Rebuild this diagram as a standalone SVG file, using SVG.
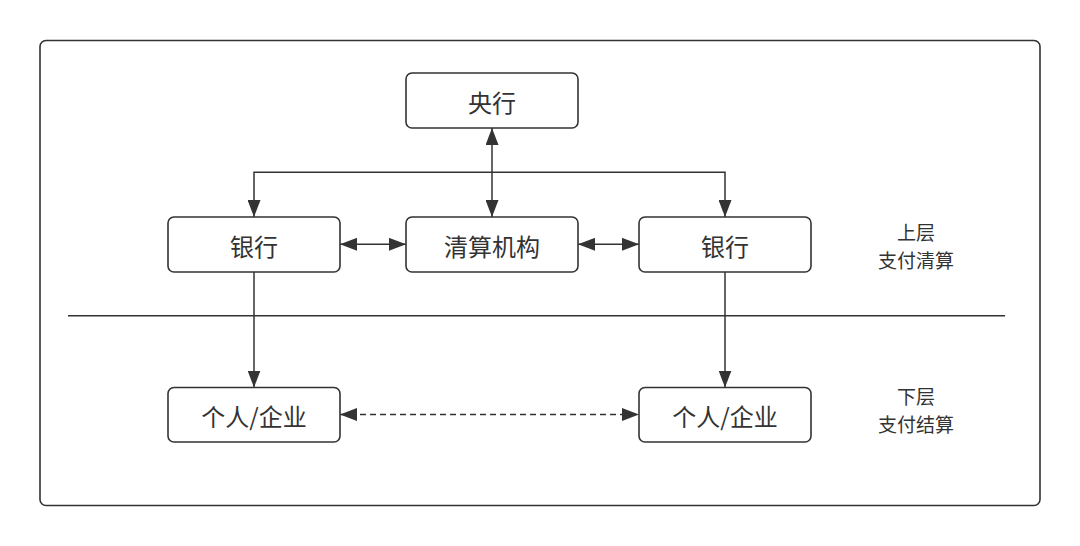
<svg xmlns="http://www.w3.org/2000/svg" width="1080" height="546" viewBox="0 0 1080 546">
<style>
.node rect{fill:#fff;stroke:#333;stroke-width:1.6}
.node text{font-family:"Noto Sans CJK SC","Noto Sans",sans-serif;font-size:24px;fill:#333;text-anchor:middle;dominant-baseline:central}
.lbl{font-family:"Noto Sans CJK SC","Noto Sans",sans-serif;font-size:19px;fill:#333;text-anchor:middle;dominant-baseline:central}
.conn path{fill:none;stroke:#333;stroke-width:1.5}
</style>
<defs>
<marker id="ah" viewBox="0 0 17 13" refX="17" refY="6.5" markerWidth="17" markerHeight="13" markerUnits="userSpaceOnUse" orient="auto-start-reverse">
<path d="M0,0 L17,6.5 L0,13 Z" fill="#333"/>
</marker>
</defs>
<rect x="0" y="0" width="1080" height="546" fill="#fff"/>
<rect id="frame" x="40" y="40.5" width="1000" height="465" rx="6" fill="none" stroke="#333" stroke-width="1.6"/>
<line x1="68" y1="315.7" x2="1005" y2="315.7" stroke="#333" stroke-width="1.4"/>
<g class="conn">
<path d="M492,128 L492,217" marker-start="url(#ah)" marker-end="url(#ah)"/>
<path d="M725,217 L725,172.3 L254,172.3 L254,217" marker-start="url(#ah)" marker-end="url(#ah)"/>
<path d="M340,244.3 L406,244.3" marker-start="url(#ah)" marker-end="url(#ah)"/>
<path d="M578,244.3 L639,244.3" marker-start="url(#ah)" marker-end="url(#ah)"/>
<path d="M254,272 L254,387.5" marker-end="url(#ah)"/>
<path d="M725,272 L725,387.5" marker-end="url(#ah)"/>
<path d="M340,414.5 L639,414.5" stroke-dasharray="6 4" marker-start="url(#ah)" marker-end="url(#ah)"/>
</g>
<g id="central" class="node"><rect x="406" y="73" width="172" height="55" rx="6"/><text x="492" y="101">央行</text></g>
<g id="clearing" class="node"><rect x="406" y="217" width="172" height="55" rx="6"/><text x="492" y="245">清算机构</text></g>
<g id="bankL" class="node"><rect x="168" y="217" width="172" height="55" rx="6"/><text x="254" y="245">银行</text></g>
<g id="bankR" class="node"><rect x="639" y="217" width="172" height="55" rx="6"/><text x="725" y="245">银行</text></g>
<g id="userL" class="node"><rect x="168" y="387.5" width="172" height="54.5" rx="6"/><text x="254" y="415">个人/企业</text></g>
<g id="userR" class="node"><rect x="639" y="387.5" width="172" height="54.5" rx="6"/><text x="725" y="415">个人/企业</text></g>
<g id="labels">
<text class="lbl" x="916" y="231.5">上层</text>
<text class="lbl" x="916" y="259.5">支付清算</text>
<text class="lbl" x="916" y="395.5">下层</text>
<text class="lbl" x="916" y="423.5">支付结算</text>
</g>
</svg>
